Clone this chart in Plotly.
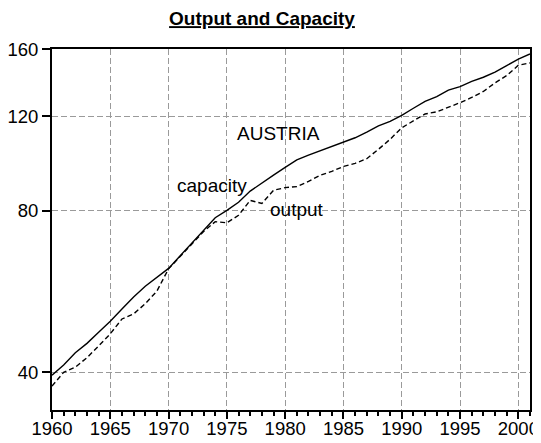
import plotly.graph_objects as go
import math

years = list(range(1960, 2002))
capacity = [39.5, 41.3, 43.5, 45.3, 47.5, 49.8, 52.5, 55.3, 57.9, 60.1,
            62.5, 66.0, 69.6, 73.4, 77.7, 80.2, 83.0, 87.1, 90.3, 93.3,
            96.4, 99.6, 101.6, 103.5, 105.5, 107.5, 109.5, 112.2, 115.2, 117.5,
            120.6, 124.3, 128.0, 130.6, 134.4, 136.4, 139.5, 142.0, 145.2, 149.3,
            153.5, 156.9]
output = [37.7, 40.0, 40.9, 42.6, 44.8, 47.2, 50.3, 51.4, 53.7, 56.7,
          62.4, 65.8, 69.4, 73.2, 76.4, 76.0, 78.5, 83.7, 82.6, 87.4,
          88.4, 88.8, 90.8, 93.2, 94.8, 96.8, 98.1, 100.1, 104.2, 108.8,
          114.3, 117.9, 121.3, 122.4, 124.8, 127.3, 130.2, 133.6, 138.6, 143.0,
          149.5, 151.0]

x_ticks = [1960, 1965, 1970, 1975, 1980, 1985, 1990, 1995, 2000]
y_ticks = [40, 80, 120, 160]
title_text = "Output and Capacity"
labels = {"AUSTRIA": (1979.4, 111.5), "capacity": (1973.7, 89.3), "output": (1981.0, 80.6)}

FONT = "Arial, Liberation Sans, sans-serif"
# the page body adds an 8px margin, so the figure is sized/offset to compensate
W, H = 533, 435

fig = go.Figure()
fig.add_trace(go.Scatter(x=years, y=capacity, mode="lines", name="capacity",
                         line=dict(color="black", width=1.4)))
fig.add_trace(go.Scatter(x=years, y=output, mode="lines", name="output",
                         line=dict(color="black", width=1.4, dash="5px,3px")))

for txt, (xv, yv) in labels.items():
    fig.add_annotation(x=xv, y=math.log10(yv), text=txt, showarrow=False,
                       xanchor="center", yanchor="middle",
                       font=dict(family=FONT, size=19, color="black"))

fig.update_layout(
    width=W, height=H,
    margin=dict(l=44, r=11, t=41, b=33, autoexpand=False),
    paper_bgcolor="white", plot_bgcolor="white",
    showlegend=False,
    font=dict(family=FONT, size=18.5, color="black"),
    title=dict(text="<b><u>" + title_text + "</u></b>", xref="container", x=254 / W,
               xanchor="center", yref="container", y=1 - 10.5 / H, yanchor="middle",
               font=dict(family=FONT, size=19, color="black")),
    xaxis=dict(range=[1960, 2001], tickvals=x_ticks, ticktext=[str(v) for v in x_ticks],
               ticks="outside", ticklen=7, tickwidth=1.5, tickcolor="black",
               minor=dict(dtick=1, tick0=1960, ticks="outside", ticklen=4, tickwidth=1.5,
                          tickcolor="black", showgrid=False),
               showline=True, linecolor="black", linewidth=2, mirror=True,
               showgrid=True, gridcolor="#9a9a9a", gridwidth=1, griddash="6px,3px",
               zeroline=False, automargin=False, ticklabelstandoff=-6,
               tickfont=dict(size=18.5)),
    yaxis=dict(type="log", range=[math.log10(34.03), math.log10(160.3)],
               tickvals=y_ticks, ticktext=[str(v) for v in y_ticks],
               ticks="outside", ticklen=8, tickwidth=1.5, tickcolor="black",
               showline=True, linecolor="black", linewidth=2, mirror=True,
               showgrid=True, gridcolor="#9a9a9a", gridwidth=1, griddash="6px,3px",
               zeroline=False, automargin=False, tickfont=dict(size=18.5)),
)

fig.write_html("out.html")
